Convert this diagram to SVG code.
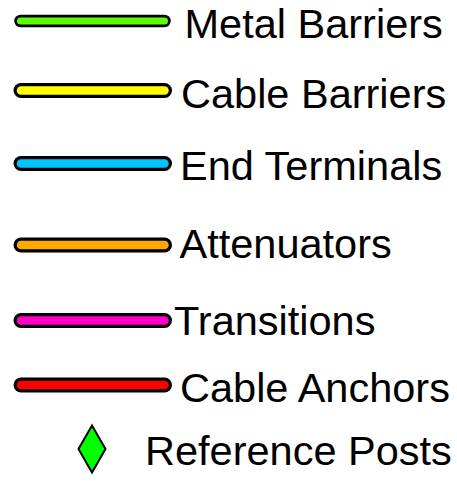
<svg xmlns="http://www.w3.org/2000/svg" width="457" height="481" viewBox="0 0 457 481">
<style>
.o{stroke:#000;stroke-width:15;stroke-linecap:round;fill:none}
.i{stroke-width:8.5;stroke-linecap:round;fill:none}
.t{font-family:"Liberation Sans",Arial,sans-serif;font-size:41.5px;fill:#000}
</style>
<rect width="457" height="481" fill="#fff"/>
<g id="metal-barriers">
<line class="o" x1="20.5" y1="21" x2="164.5" y2="21" style="stroke-width:12.5"/>
<line class="i" x1="20.5" y1="21" x2="164.5" y2="21" stroke="#5cff00" style="stroke-width:7"/>
<text class="t" x="184.5" y="37.6">Metal Barriers</text>
</g>
<g id="cable-barriers">
<line class="o" x1="21" y1="90.5" x2="164.5" y2="90.5"/>
<line class="i" x1="21" y1="90.5" x2="164.5" y2="90.5" stroke="#ffff00"/>
<text class="t" x="181" y="107.5">Cable Barriers</text>
</g>
<g id="end-terminals">
<line class="o" x1="21" y1="163.5" x2="164.5" y2="163.5"/>
<line class="i" x1="21" y1="163.5" x2="164.5" y2="163.5" stroke="#00c5ff"/>
<text class="t" x="180" y="180">End Terminals</text>
</g>
<g id="attenuators">
<line class="o" x1="21" y1="245" x2="164.5" y2="245"/>
<line class="i" x1="21" y1="245" x2="164.5" y2="245" stroke="#ffaa00"/>
<text class="t" x="179.5" y="257.5">Attenuators</text>
</g>
<g id="transitions">
<line class="o" x1="21" y1="320.5" x2="164.5" y2="320.5"/>
<line class="i" x1="21" y1="320.5" x2="164.5" y2="320.5" stroke="#ff00c5"/>
<text class="t" x="174" y="334.5">Transitions</text>
</g>
<g id="cable-anchors">
<line class="o" x1="21" y1="385" x2="164.5" y2="385"/>
<line class="i" x1="21" y1="385" x2="164.5" y2="385" stroke="#ff0000"/>
<text class="t" x="180" y="402">Cable Anchors</text>
</g>
<g id="reference-posts">
<polygon points="92,425.5 105.5,449 92,472.5 78.5,449" fill="#00ff00" stroke="#000" stroke-width="2"/>
<text class="t" x="145" y="465">Reference Posts</text>
</g>
</svg>
